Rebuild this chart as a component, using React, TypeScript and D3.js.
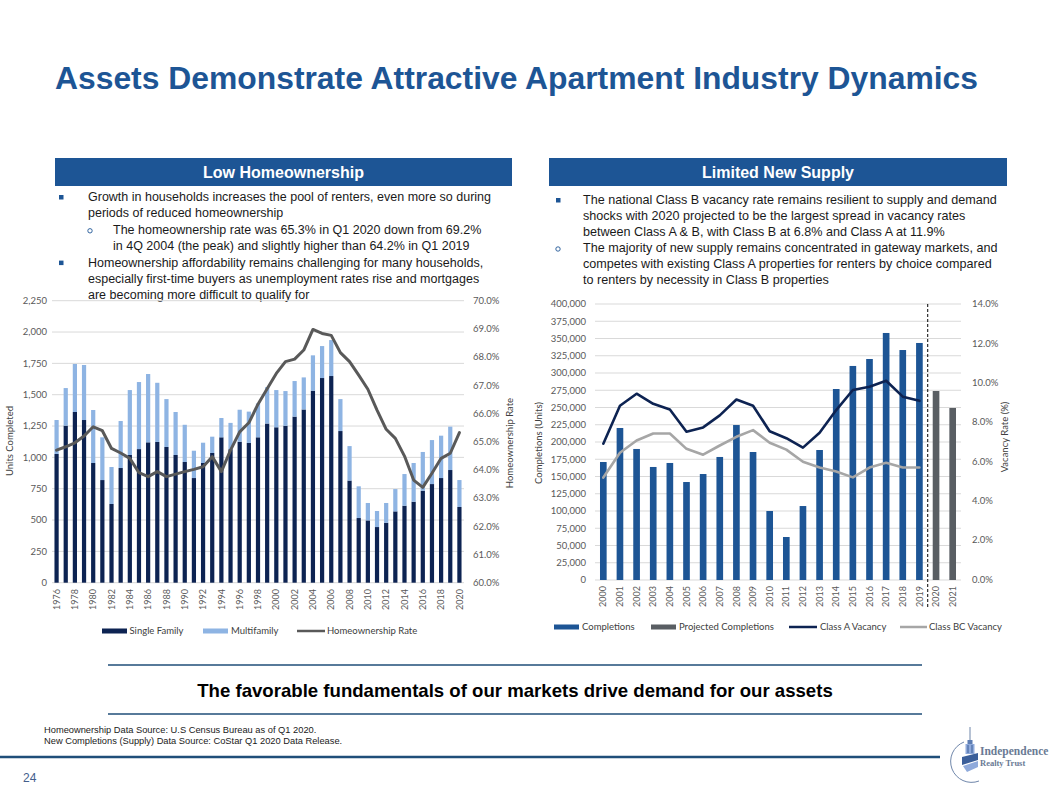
import React from "react";
import * as d3 from "d3";

// ---------- Left chart data (thousands of units / %) ----------
const homeYears = [
  1976, 1977, 1978, 1979, 1980, 1981, 1982, 1983, 1984, 1985, 1986, 1987, 1988, 1989, 1990,
  1991, 1992, 1993, 1994, 1995, 1996, 1997, 1998, 1999, 2000, 2001, 2002, 2003, 2004, 2005,
  2006, 2007, 2008, 2009, 2010, 2011, 2012, 2013, 2014, 2015, 2016, 2017, 2018, 2019, 2020,
];
const singleFamily = [
  1027, 1253, 1362, 1298, 955, 819, 628, 915, 1019, 1066, 1120, 1123, 1083, 1019, 963,
  835, 955, 1035, 1160, 1065, 1125, 1115, 1160, 1270, 1240, 1252, 1325, 1382, 1532, 1633,
  1649, 1210, 815, 516, 497, 444, 478, 569, 614, 646, 734, 787, 835, 899, 604,
];
const multiFamily = [
  271, 300, 383, 439, 423, 341, 295, 375, 518, 535, 545, 472, 382, 343, 297,
  218, 162, 130, 154, 210, 255, 250, 270, 290, 297, 277, 284, 256, 282, 255,
  287, 255, 275, 253, 139, 128, 158, 178, 253, 309, 309, 351, 338, 346, 215,
];
const homeownershipRate = [
  64.7, 64.82, 64.96, 65.2, 65.53, 65.39, 64.76, 64.6, 64.41, 63.9, 63.76, 63.94, 63.76, 63.85, 63.94,
  64.02, 64.11, 64.47, 63.94, 64.7, 65.35, 65.67, 66.33, 66.88, 67.42, 67.84, 67.93, 68.25, 68.98, 68.84,
  68.77, 68.16, 67.84, 67.36, 66.86, 66.12, 65.44, 65.12, 64.49, 63.64, 63.38, 63.88, 64.41, 64.59, 65.32,
];
const leftTicks = [0, 250, 500, 750, 1000, 1250, 1500, 1750, 2000, 2250];
const rateTicks = [60, 61, 62, 63, 64, 65, 66, 67, 68, 69, 70];

// ---------- Right chart data ----------
const supplyYears = [
  2000, 2001, 2002, 2003, 2004, 2005, 2006, 2007, 2008, 2009, 2010, 2011,
  2012, 2013, 2014, 2015, 2016, 2017, 2018, 2019, 2020, 2021,
];
const completions = [
  171000, 220300, 189900, 163800, 169600, 142000, 153600, 178300, 224600, 185500, 100000, 62300,
  107200, 188400, 276800, 310200, 320300, 358000, 333300, 343500, null, null,
];
const projectedCompletions = [
  null, null, null, null, null, null, null, null, null, null, null, null,
  null, null, null, null, null, null, null, null, 273900, 249300,
];
const classAVacancy = [
  6.9, 8.83, 9.44, 8.93, 8.64, 7.51, 7.73, 8.34, 9.15, 8.83, 7.53, 7.18,
  6.7, 7.46, 8.61, 9.63, 9.8, 10.1, 9.29, 9.08,
];
const classBCVacancy = [
  5.18, 6.44, 7.06, 7.42, 7.42, 6.64, 6.34, 6.81, 7.25, 7.59, 6.95, 6.6,
  5.98, 5.69, 5.49, 5.19, 5.69, 5.93, 5.69, 5.69,
];
const completionTicks = d3.range(0, 400001, 25000);
const vacancyTicks = [0, 2, 4, 6, 8, 10, 12, 14];

// ---------- Text ----------
const leftBullets = [
  { type: "sq", lines: ["Growth in households increases the pool of renters, even more so during", "periods of reduced homeownership"] },
  { type: "o", lines: ["The homeownership rate was 65.3% in Q1 2020 down from 69.2%", "in 4Q 2004 (the peak) and slightly higher than 64.2% in Q1 2019"] },
  { type: "sq", lines: ["Homeownership affordability remains challenging for many households,", "especially first-time buyers as unemployment rates rise and mortgages", "are becoming more difficult to qualify for"] },
];
const rightBullets = [
  { type: "sq", lines: ["The national Class B vacancy rate remains resilient to supply and demand", "shocks with 2020 projected to be the largest spread in vacancy rates", "between Class A & B, with Class B at 6.8% and Class A at 11.9%"] },
  { type: "o", lines: ["The majority of new supply remains concentrated in gateway markets, and", "competes with existing Class A properties for renters by choice compared", "to renters by necessity in Class B properties"] },
];

const BLUE = "#1D5595";
const NAVY = "#0D2352";
const LIGHT = "#8EB4E3";
const GRAY = "#595959";
const GRID = "#D9D9D9";
const CHART_FONT = "Lato, 'Open Sans', sans-serif";
const TXT_FONT = "'Liberation Sans', Arial, sans-serif";

function Bullets({ items, x0, textX, subX, subTextX, y0, step, size }: any) {
  const out: any[] = [];
  let row = 0;
  items.forEach((it: any, i: number) => {
    const tx = it.type === "sq" ? textX : subTextX;
    const bx = it.type === "sq" ? x0 : subX;
    const by = y0 + row * step - 4;
    out.push(
      it.type === "sq" ? (
        <rect key={"b" + i} x={bx - 2} y={by - 2} width={4.5} height={4.5} fill={BLUE} />
      ) : (
        <circle key={"b" + i} cx={bx} cy={by + 1} r={2.2} fill="none" stroke={BLUE} strokeWidth={0.9} />
      )
    );
    it.lines.forEach((ln: string, j: number) => {
      out.push(
        <text key={`t${i}-${j}`} x={tx} y={y0 + row * step} fontSize={size} fill="#1a1a1a" fontFamily={TXT_FONT}>
          {ln}
        </text>
      );
      row++;
    });
  });
  return <g>{out}</g>;
}

export default function App() {
  // ---- left chart scales ----
  const xL = d3.scaleBand<number>().domain(homeYears).range([52, 464]).paddingInner(0.54).paddingOuter(0.27);
  const yL = d3.scaleLinear().domain([0, 2250]).range([582.7, 300.7]);
  const yRate = d3.scaleLinear().domain([60, 70]).range([582.7, 300.7]);
  const rateLine = d3
    .line<number>()
    .x((_, i) => (xL(homeYears[i]) as number) + xL.bandwidth() / 2)
    .y((d) => yRate(d));

  // ---- right chart scales ----
  const xR = d3.scaleBand<number>().domain(supplyYears).range([595, 961]).paddingInner(0.6).paddingOuter(0.3);
  const yC = d3.scaleLinear().domain([0, 400000]).range([580, 304]);
  const yV = d3.scaleLinear().domain([0, 14]).range([579.5, 304]);
  const vacLine = d3
    .line<number>()
    .x((_, i) => (xR(supplyYears[i]) as number) + xR.bandwidth() / 2)
    .y((d) => yV(d));
  const fmtC = d3.format(",");
  const dashX =
    ((xR(2019) as number) + (xR(2020) as number)) / 2 + xR.bandwidth() / 2;

  return (
    <svg width={1058} height={796} style={{ position: "absolute", left: 0, top: 0, background: "#fff" }}>
      <rect x={0} y={0} width={1058} height={796} fill="#fff" />
      {/* Title */}
      <text x={55} y={89} fontSize={31} fontWeight="bold" fill={BLUE} fontFamily={TXT_FONT} textLength={923} lengthAdjust="spacingAndGlyphs">
        Assets Demonstrate Attractive Apartment Industry Dynamics
      </text>

      {/* Section headers */}
      <rect x={55} y={158} width={457} height={28} fill={BLUE} />
      <text x={283.5} y={178} textAnchor="middle" fontSize={16} fontWeight="bold" fill="#fff" fontFamily={TXT_FONT}>
        Low Homeownership
      </text>
      <rect x={549} y={158} width={458} height={28} fill={BLUE} />
      <text x={778} y={178} textAnchor="middle" fontSize={16} fontWeight="bold" fill="#fff" fontFamily={TXT_FONT}>
        Limited New Supply
      </text>

      <Bullets items={leftBullets} x0={61} textX={88} subX={90} subTextX={113} y0={201} step={16.4} size={12.5} />
      <Bullets items={rightBullets} x0={558} textX={583} subX={558} subTextX={583} y0={204} step={16} size={12.6} />

      {/* ================= LEFT CHART ================= */}
      <g fontFamily={CHART_FONT} fill={GRAY}>
        {leftTicks.map((t) => (
          <line key={"gl" + t} x1={52} x2={464} y1={yL(t)} y2={yL(t)} stroke={GRID} strokeWidth={1} />
        ))}
        {homeYears.map((yr, i) => {
          const x = xL(yr) as number;
          return (
            <g key={"hb" + yr}>
              <rect x={x} y={yL(singleFamily[i])} width={xL.bandwidth()} height={yL(0) - yL(singleFamily[i])} fill={NAVY} />
              <rect
                x={x}
                y={yL(singleFamily[i] + multiFamily[i])}
                width={xL.bandwidth()}
                height={yL(singleFamily[i]) - yL(singleFamily[i] + multiFamily[i])}
                fill={LIGHT}
              />
            </g>
          );
        })}
        <path d={rateLine(homeownershipRate) || ""} fill="none" stroke={GRAY} strokeWidth={3} strokeLinejoin="round" strokeLinecap="round" />
        {leftTicks.map((t) => (
          <text key={"lt" + t} x={47} y={yL(t)} dy="0.35em" textAnchor="end" fontSize={9.5} fill={GRAY}>
            {d3.format(",")(t)}
          </text>
        ))}
        {rateTicks.map((t) => (
          <text key={"rt" + t} x={473} y={yRate(t)} dy="0.35em" textAnchor="start" fontSize={9.5} fill={GRAY}>
            {t.toFixed(1) + "%"}
          </text>
        ))}
        {homeYears
          .filter((y) => y % 2 === 0)
          .map((yr) => {
            const cx = (xL(yr) as number) + xL.bandwidth() / 2;
            return (
              <text key={"lx" + yr} transform={`translate(${cx},589) rotate(-90)`} dy="0.35em" textAnchor="end" fontSize={9} fill={GRAY}>
                {yr}
              </text>
            );
          })}
        <text transform="translate(13,441) rotate(-90)" textAnchor="middle" fontSize={9.5} fill="#404040">
          Units Completed
        </text>
        <text transform="translate(513,443) rotate(-90)" textAnchor="middle" fontSize={9.5} fill="#404040">
          Homeownership Rate
        </text>
        {/* legend */}
        <rect x={102} y={628.5} width={25} height={5} fill={NAVY} />
        <text x={129.5} y={631} dy="0.35em" fontSize={9.5} fill="#404040">Single Family</text>
        <rect x={203} y={628.5} width={25} height={5} fill={LIGHT} />
        <text x={231} y={631} dy="0.35em" fontSize={9.5} fill="#404040">Multifamily</text>
        <line x1={297} x2={325} y1={631} y2={631} stroke={GRAY} strokeWidth={2.5} />
        <text x={327} y={631} dy="0.35em" fontSize={9.5} fill="#404040">Homeownership Rate</text>
      </g>

      {/* ================= RIGHT CHART ================= */}
      <g fontFamily={CHART_FONT}>
        {completionTicks.map((t) => (
          <line key={"gr" + t} x1={595} x2={961} y1={yC(t)} y2={yC(t)} stroke={GRID} strokeWidth={1} />
        ))}
        {supplyYears.map((yr, i) =>
          completions[i] != null ? (
            <rect key={"cb" + yr} x={xR(yr)} y={yC(completions[i] as number)} width={xR.bandwidth()} height={yC(0) - yC(completions[i] as number)} fill={BLUE} />
          ) : null
        )}
        {supplyYears.map((yr, i) =>
          projectedCompletions[i] != null ? (
            <rect key={"pb" + yr} x={xR(yr)} y={yC(projectedCompletions[i] as number)} width={xR.bandwidth()} height={yC(0) - yC(projectedCompletions[i] as number)} fill="#595E63" />
          ) : null
        )}
        <path d={vacLine(classBCVacancy) || ""} fill="none" stroke="#A6A6A6" strokeWidth={2.6} strokeLinejoin="round" strokeLinecap="round" />
        <path d={vacLine(classAVacancy) || ""} fill="none" stroke={NAVY} strokeWidth={2.6} strokeLinejoin="round" strokeLinecap="round" />
        <line x1={dashX} x2={dashX} y1={304} y2={607} stroke="#000" strokeWidth={1} strokeDasharray="3,2" />
        {completionTicks.map((t) => (
          <text key={"ct" + t} x={586} y={yC(t)} dy="0.35em" textAnchor="end" fontSize={9.5} fill={GRAY}>
            {fmtC(t)}
          </text>
        ))}
        {vacancyTicks.map((t) => (
          <text key={"vt" + t} x={972} y={yV(t)} dy="0.35em" textAnchor="start" fontSize={9.5} fill={GRAY}>
            {t.toFixed(1) + "%"}
          </text>
        ))}
        {supplyYears.map((yr) => {
          const cx = (xR(yr) as number) + xR.bandwidth() / 2;
          return (
            <text key={"rx" + yr} transform={`translate(${cx},586) rotate(-90)`} dy="0.35em" textAnchor="end" fontSize={9} fill={GRAY}>
              {yr}
            </text>
          );
        })}
        <text transform="translate(542,443) rotate(-90)" textAnchor="middle" fontSize={9.5} fill="#404040">
          Completions (Units)
        </text>
        <text transform="translate(1008,437) rotate(-90)" textAnchor="middle" fontSize={9.5} fill="#404040">
          Vacancy Rate (%)
        </text>
        {/* legend */}
        <rect x={554} y={624.5} width={25} height={5} fill={BLUE} />
        <text x={582} y={627} dy="0.35em" fontSize={9.5} fill="#404040">Completions</text>
        <rect x={651} y={624.5} width={25} height={5} fill="#595E63" />
        <text x={679} y={627} dy="0.35em" fontSize={9.5} fill="#404040">Projected Completions</text>
        <line x1={789} x2={817} y1={627} y2={627} stroke={NAVY} strokeWidth={2.5} />
        <text x={820} y={627} dy="0.35em" fontSize={9.5} fill="#404040">Class A Vacancy</text>
        <line x1={900} x2={927} y1={627} y2={627} stroke="#A6A6A6" strokeWidth={2.5} />
        <text x={929} y={627} dy="0.35em" fontSize={9.5} fill="#404040">Class BC Vacancy</text>
      </g>

      {/* Bottom banner */}
      <line x1={108} x2={922} y1={665} y2={665} stroke="#1F4E79" strokeWidth={1.6} />
      <line x1={108} x2={922} y1={714} y2={714} stroke="#1F4E79" strokeWidth={1.6} />
      <text x={515} y={697} textAnchor="middle" fontSize={18.6} fontWeight="bold" fill="#000" fontFamily={TXT_FONT}>
        The favorable fundamentals of our markets drive demand for our assets
      </text>
      <text x={44} y={733} fontSize={9.3} fill="#1a1a1a" fontFamily={TXT_FONT}>
        Homeownership Data Source: U.S Census Bureau as of Q1 2020.
      </text>
      <text x={44} y={744} fontSize={9.3} fill="#1a1a1a" fontFamily={TXT_FONT}>
        New Completions (Supply) Data Source: CoStar Q1 2020 Data Release.
      </text>
      <line x1={0} x2={940} y1={757} y2={757} stroke="#1F4E79" strokeWidth={2.7} />
      <text x={23} y={782} fontSize={12} fill="#44608C" fontFamily={TXT_FONT}>
        24
      </text>

      {/* Logo */}
      <g>
        <path d="M 964 742 A 19 19 0 0 0 979 781" fill="none" stroke="#6F86AA" strokeWidth={1} />
        <line x1={970} x2={970} y1={727} y2={741} stroke="#6F86AA" strokeWidth={1} />
        <rect x={967.5} y={740} width={5} height={4} fill="#5D7DB3" />
        <rect x={965.5} y={744} width={9} height={10} fill="#8FAADB" />
        <line x1={968} x2={968} y1={745} y2={753} stroke="#3B5F9A" strokeWidth={1} />
        <line x1={972} x2={972} y1={745} y2={753} stroke="#3B5F9A" strokeWidth={1} />
        <polygon points="962,757 978,753 978,760 962,765" fill="#3B5F9A" />
        <polygon points="963,766 978,761 978,767 967,772" fill="#8FAADB" />
        <text x={980} y={755} fontSize={11.5} fontWeight="bold" fill="#6A7A94" fontFamily="'Liberation Serif', 'DejaVu Serif', serif">
          Independence
        </text>
        <text x={980} y={765.5} fontSize={8.5} fontWeight="bold" fill="#6A7A94" fontFamily="'Liberation Serif', 'DejaVu Serif', serif">
          Realty Trust
        </text>
      </g>
    </svg>
  );
}
